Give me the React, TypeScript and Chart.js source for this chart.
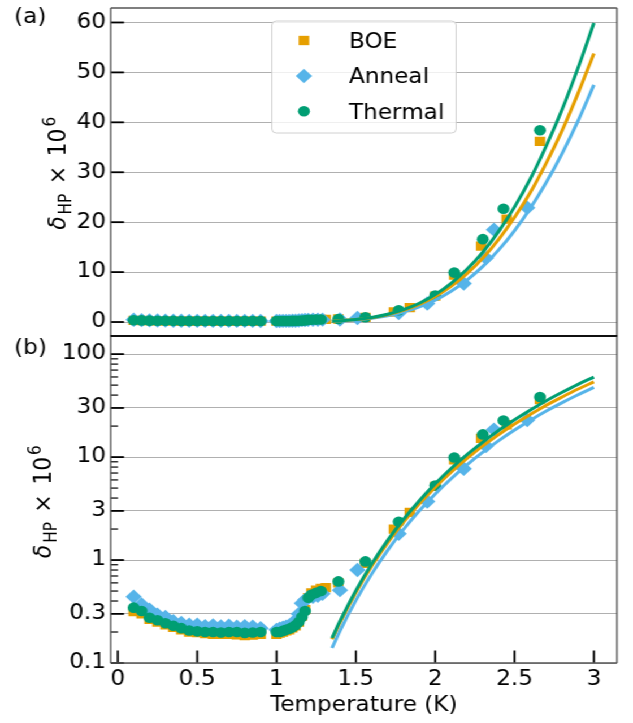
import React, { useEffect, useRef } from 'react';
import { Chart, registerables } from 'chart.js';
Chart.register(...registerables);

// ---------- data ----------
const boeT = [0.1, 0.15, 0.2, 0.25, 0.3, 0.35, 0.4, 0.45, 0.5, 0.55, 0.6, 0.65, 0.7, 0.75, 0.8, 0.85, 0.9,
  1.0, 1.02, 1.04, 1.06, 1.08, 1.1, 1.12, 1.14, 1.16, 1.18, 1.2, 1.22, 1.25, 1.28, 1.31, 1.39,
  1.56, 1.74, 1.84, 2.0, 2.12, 2.29, 2.45, 2.66];
const boeY = [0.315, 0.3, 0.265, 0.25, 0.235, 0.222, 0.21, 0.2, 0.197, 0.193, 0.19, 0.19, 0.19, 0.188, 0.185, 0.187, 0.19,
  0.19, 0.195, 0.2, 0.205, 0.21, 0.22, 0.23, 0.25, 0.285, 0.33, 0.43, 0.48, 0.51, 0.53, 0.54, 0.6,
  0.93, 2.0, 2.9, 5.2, 9.4, 15.2, 20.6, 36.2];

const annealT = [0.1, 0.15, 0.2, 0.25, 0.3, 0.35, 0.4, 0.45, 0.5, 0.55, 0.6, 0.65, 0.7, 0.75, 0.8, 0.85, 0.9,
  1.0, 1.02, 1.04, 1.06, 1.08, 1.1, 1.12, 1.14, 1.16, 1.18, 1.2, 1.23, 1.26, 1.29, 1.4,
  1.51, 1.77, 1.95, 2.18, 2.32, 2.37, 2.58];
const annealY = [0.44, 0.37, 0.33, 0.295, 0.28, 0.255, 0.245, 0.235, 0.235, 0.228, 0.232, 0.226, 0.23, 0.225, 0.228, 0.225, 0.218,
  0.21, 0.215, 0.22, 0.225, 0.23, 0.24, 0.26, 0.3, 0.38, 0.41, 0.43, 0.44, 0.45, 0.47, 0.51,
  0.8, 1.8, 3.7, 7.7, 12.8, 18.5, 22.9];

const thermalT = [0.1, 0.15, 0.2, 0.25, 0.3, 0.35, 0.4, 0.45, 0.5, 0.55, 0.6, 0.65, 0.7, 0.75, 0.8, 0.85, 0.9,
  1.0, 1.02, 1.04, 1.06, 1.08, 1.1, 1.12, 1.14, 1.16, 1.18, 1.2, 1.22, 1.25, 1.28, 1.39,
  1.56, 1.77, 2.0, 2.12, 2.3, 2.43, 2.66];
const thermalY = [0.345, 0.32, 0.275, 0.26, 0.243, 0.23, 0.218, 0.207, 0.203, 0.2, 0.2, 0.198, 0.2, 0.2, 0.196, 0.198, 0.2,
  0.2, 0.2, 0.205, 0.21, 0.215, 0.222, 0.232, 0.25, 0.28, 0.32, 0.43, 0.46, 0.48, 0.5, 0.62,
  0.97, 2.35, 5.3, 9.9, 16.6, 22.7, 38.4];

const fitT = [1.35, 1.4, 1.5, 1.6, 1.7, 1.8, 1.9, 2.0, 2.1, 2.2, 2.3, 2.4, 2.5, 2.6, 2.7, 2.8, 2.9, 3.0];
const thermalFit = [0.175, 0.255, 0.505, 0.918, 1.554, 2.48, 3.77, 5.5, 7.74, 10.55, 14.01, 18.16, 23.06, 28.7, 35.3, 42.6, 50.9, 59.9];
const boeFit = [0.17, 0.247, 0.484, 0.873, 1.467, 2.33, 3.52, 5.1, 7.14, 9.7, 12.83, 16.56, 20.97, 26.0, 31.9, 38.4, 45.8, 53.8];
const annealFit = [0.14, 0.205, 0.405, 0.734, 1.241, 1.98, 3.01, 4.38, 6.16, 8.4, 11.15, 14.44, 18.32, 22.83, 28.0, 33.8, 40.3, 47.5];

const seriesNames = ['BOE', 'Anneal', 'Thermal'];
const xTicks = [0, 0.5, 1, 1.5, 2, 2.5, 3];
const yTicksLin = [0, 10, 20, 30, 40, 50, 60];
const yTicksLog = [0.1, 0.3, 1, 3, 10, 30, 100];
const yMinorLog = [0.2, 0.4, 0.5, 0.6, 0.7, 0.8, 0.9, 2, 4, 5, 6, 7, 8, 9, 20, 40, 50, 60, 70, 80, 90];

// ---------- style / layout ----------
const W = 560, H = 723;
const SX = 633 / W;
const FONT = 'DejaVu Sans';
const FS = 20.5;
const LFS = 22;
const ORANGE = '#E69F00', BLUE = '#56B4E9', GREEN = '#009E73';
const AREA_L = 97.9, AREA_R = 545.8;
const TOP_T = 8, TOP_B = 336, BOT_T = 336, BOT_B = 663;
const X_MIN = -0.045, X_MAX = 3.145;
const SPINE = '#555555';

const pts = (xs: number[], ys: number[]) => xs.map((x, i) => ({ x, y: ys[i] }));

function datasets() {
  const fit = (label: string, ys: number[], color: string, order: number) => ({
    type: 'line', label, data: pts(fitT, ys), borderColor: color, backgroundColor: color,
    borderWidth: 3, pointRadius: 0, fill: false, cubicInterpolationMode: 'monotone', order,
  });
  const sc = (label: string, xs: number[], ys: number[], color: string, style: string, r: number, order: number) => ({
    type: 'scatter', label, data: pts(xs, ys), showLine: false, pointStyle: style, pointRadius: r,
    pointBackgroundColor: color, backgroundColor: color, pointBorderWidth: 0, borderWidth: 0, order,
  });
  return [
    fit('Thermal fit', thermalFit, GREEN, 1),
    fit('BOE fit', boeFit, ORANGE, 2),
    fit('Anneal fit', annealFit, BLUE, 3),
    sc(seriesNames[2], thermalT, thermalY, GREEN, 'circle', 5.3, 4),
    sc(seriesNames[1], annealT, annealY, BLUE, 'rectRot', 7.2, 5),
    sc(seriesNames[0], boeT, boeY, ORANGE, 'rect', 6.6, 6),
  ];
}

function drawYLabel(ctx: CanvasRenderingContext2D, bx: number, cy: number) {
  const big = `${LFS}px "${FONT}"`;
  const ital = `italic ${LFS}px "${FONT}"`;
  const small = `${LFS * 0.7}px "${FONT}"`;
  const pieces = [
    { t: '\u03b4', f: ital, dy: 0 },
    { t: 'HP', f: small, dy: 4.5 },
    { t: '\u00d7', f: big, dy: 0 },
    { t: '10', f: big, dy: 0 },
    { t: '6', f: small, dy: -9.5 },
  ];
  const gw = [0.5, 2.5, 2.5, 0.5];
  let sum = 0;
  const ws = pieces.map(p => { ctx.font = p.f; const w = ctx.measureText(p.t).width; sum += w; return w; });
  const target = 113;
  const rem = Math.max(target - sum, 8);
  const gsum = gw.reduce((a, b) => a + b, 0);
  ctx.save();
  ctx.translate(bx, cy);
  ctx.rotate(-Math.PI / 2);
  ctx.fillStyle = '#000';
  ctx.textBaseline = 'alphabetic';
  ctx.textAlign = 'left';
  let x = -(sum + rem) / 2;
  pieces.forEach((p, i) => {
    ctx.font = p.f;
    ctx.fillText(p.t, x, p.dy);
    x += ws[i] + (i < gw.length ? rem * gw[i] / gsum : 0);
  });
  ctx.restore();
}

function drawLegend(ctx: CanvasRenderingContext2D) {
  const x0 = 240.5, y0 = 21, w = 163, h = 112, r = 4;
  ctx.save();
  ctx.beginPath();
  ctx.moveTo(x0 + r, y0);
  ctx.arcTo(x0 + w, y0, x0 + w, y0 + h, r);
  ctx.arcTo(x0 + w, y0 + h, x0, y0 + h, r);
  ctx.arcTo(x0, y0 + h, x0, y0, r);
  ctx.arcTo(x0, y0, x0 + w, y0, r);
  ctx.closePath();
  ctx.fillStyle = 'rgba(255,255,255,0.8)';
  ctx.fill();
  ctx.strokeStyle = '#d0d0d0';
  ctx.lineWidth = 1;
  ctx.stroke();
  const mx = 268.9;
  const rows = [
    { c: 40.5, b: 48.3, color: ORANGE, kind: 'rect' },
    { c: 76, b: 83.3, color: BLUE, kind: 'diamond' },
    { c: 111.3, b: 119.3, color: GREEN, kind: 'circle' },
  ];
  rows.forEach((row, i) => {
    ctx.fillStyle = row.color;
    ctx.beginPath();
    if (row.kind === 'rect') {
      const s = 6.6 * Math.SQRT1_2;
      ctx.rect(mx - s, row.c - s, 2 * s, 2 * s);
    } else if (row.kind === 'diamond') {
      ctx.moveTo(mx, row.c - 7.2); ctx.lineTo(mx + 7.2, row.c); ctx.lineTo(mx, row.c + 7.2); ctx.lineTo(mx - 7.2, row.c); ctx.closePath();
    } else {
      ctx.arc(mx, row.c, 5.3, 0, Math.PI * 2);
    }
    ctx.fill();
    ctx.fillStyle = '#000';
    ctx.font = `${FS}px "${FONT}"`;
    ctx.textAlign = 'left';
    ctx.textBaseline = 'alphabetic';
    ctx.fillText(seriesNames[i], 308.7, row.b);
  });
  ctx.restore();
}

function decor(kind: 'top' | 'bottom') {
  return {
    id: 'decor-' + kind,
    afterDatasetsDraw(chart: any) {
      const { ctx, chartArea: a, scales } = chart;
      const ys = scales.y, xs = scales.x;
      ctx.save();
      const seg = (x1: number, y1: number, x2: number, y2: number) => { ctx.beginPath(); ctx.moveTo(x1, y1); ctx.lineTo(x2, y2); ctx.stroke(); };
      ctx.strokeStyle = '#000';
      ctx.lineWidth = 1.8;
      const majors = kind === 'top' ? yTicksLin : yTicksLog;
      majors.forEach(v => { const p = ys.getPixelForValue(v); seg(a.left, p, a.left + 11.8, p); });
      if (kind === 'bottom') {
        ctx.lineWidth = 1.2;
        yMinorLog.forEach(v => { const p = ys.getPixelForValue(v); seg(a.left, p, a.left + 6.5, p); });
        ctx.lineWidth = 1.8;
        xTicks.forEach(v => { const p = xs.getPixelForValue(v); seg(p, a.bottom, p, a.bottom - 12.5); });
      }
      ctx.lineWidth = 1.3;
      ctx.strokeStyle = SPINE;
      seg(a.left, a.top, a.left, a.bottom);
      seg(a.right, a.top, a.right, a.bottom);
      if (kind === 'top') seg(a.left, a.top, a.right, a.top);
      else seg(a.left, a.bottom, a.right, a.bottom);
      ctx.strokeStyle = '#000';
      ctx.lineWidth = 1.5;
      if (kind === 'top') seg(a.left, a.bottom, a.right, a.bottom);
      else seg(a.left, a.top, a.right, a.top);
      ctx.restore();
    },
    afterDraw(chart: any) {
      const ctx = chart.ctx;
      ctx.save();
      ctx.fillStyle = '#000';
      ctx.font = `${FS}px "${FONT}"`;
      ctx.textAlign = 'left';
      ctx.textBaseline = 'alphabetic';
      if (kind === 'top') {
        ctx.fillText('(a)', 12.5, 23);
        drawLegend(ctx);
        drawYLabel(ctx, 58, 173.3);
      } else {
        ctx.fillText('(b)', 12.5, 354);
        drawYLabel(ctx, 45, 501.7);
      }
      ctx.restore();
    },
  };
}

function config(kind: 'top' | 'bottom'): any {
  const top = kind === 'top';
  const font = { family: FONT, size: FS };
  const xAxis: any = {
    type: 'linear', min: X_MIN, max: X_MAX, display: !top,
    grid: { display: false, drawTicks: false }, border: { display: false },
    ticks: { font, color: '#000', padding: 4, autoSkip: false, maxRotation: 0, callback: (v: any) => String(+v) },
    title: { display: !top, text: 'Temperature (K)', font, color: '#000', padding: { top: 0, bottom: 5 } },
    afterBuildTicks: (s: any) => { s.ticks = xTicks.map(v => ({ value: v })); },
  };
  if (!top) {
    xAxis.afterFit = (s: any) => { s.height = H - BOT_B; s.paddingLeft = 0; s.paddingRight = 0; };
  }
  const yAxis: any = {
    type: top ? 'linear' : 'logarithmic',
    min: top ? -2.8 : 0.1,
    max: top ? 62.9 : 150,
    grid: { color: '#b0b0b0', lineWidth: 1, drawTicks: false },
    border: { display: false },
    ticks: { font, color: '#000', padding: 4, autoSkip: false, callback: (v: any) => String(+v) },
    afterBuildTicks: (s: any) => { s.ticks = (top ? yTicksLin : yTicksLog).map(v => ({ value: v })); },
    afterFit: (s: any) => { s.width = AREA_L; s.paddingTop = 0; s.paddingBottom = 0; },
  };
  return {
    type: 'scatter',
    data: { datasets: datasets() },
    options: {
      responsive: false,
      maintainAspectRatio: false,
      animation: false,
      devicePixelRatio: 1,
      events: [],
      layout: {
        padding: top
          ? { left: 0, right: W - AREA_R, top: TOP_T, bottom: H - TOP_B }
          : { left: 0, right: W - AREA_R, top: BOT_T, bottom: 0 },
      },
      plugins: { legend: { display: false }, tooltip: { enabled: false } },
      scales: { x: xAxis, y: yAxis },
    },
    plugins: [decor(kind)],
  };
}

export default function App() {
  const r1 = useRef<HTMLCanvasElement>(null);
  const r2 = useRef<HTMLCanvasElement>(null);
  useEffect(() => {
    const c1 = new Chart(r1.current as HTMLCanvasElement, config('top'));
    const c2 = new Chart(r2.current as HTMLCanvasElement, config('bottom'));
    return () => { c1.destroy(); c2.destroy(); };
  }, []);
  return (
    <div style={{ position: 'fixed', left: 0, top: 0, width: W, height: H, transform: `scaleX(${SX})`, transformOrigin: '0 0', background: '#fff' }}>
      <canvas ref={r1} width={W} height={H} style={{ position: 'absolute', left: 0, top: 0, width: W, height: H }} />
      <canvas ref={r2} width={W} height={H} style={{ position: 'absolute', left: 0, top: 0, width: W, height: H }} />
    </div>
  );
}
